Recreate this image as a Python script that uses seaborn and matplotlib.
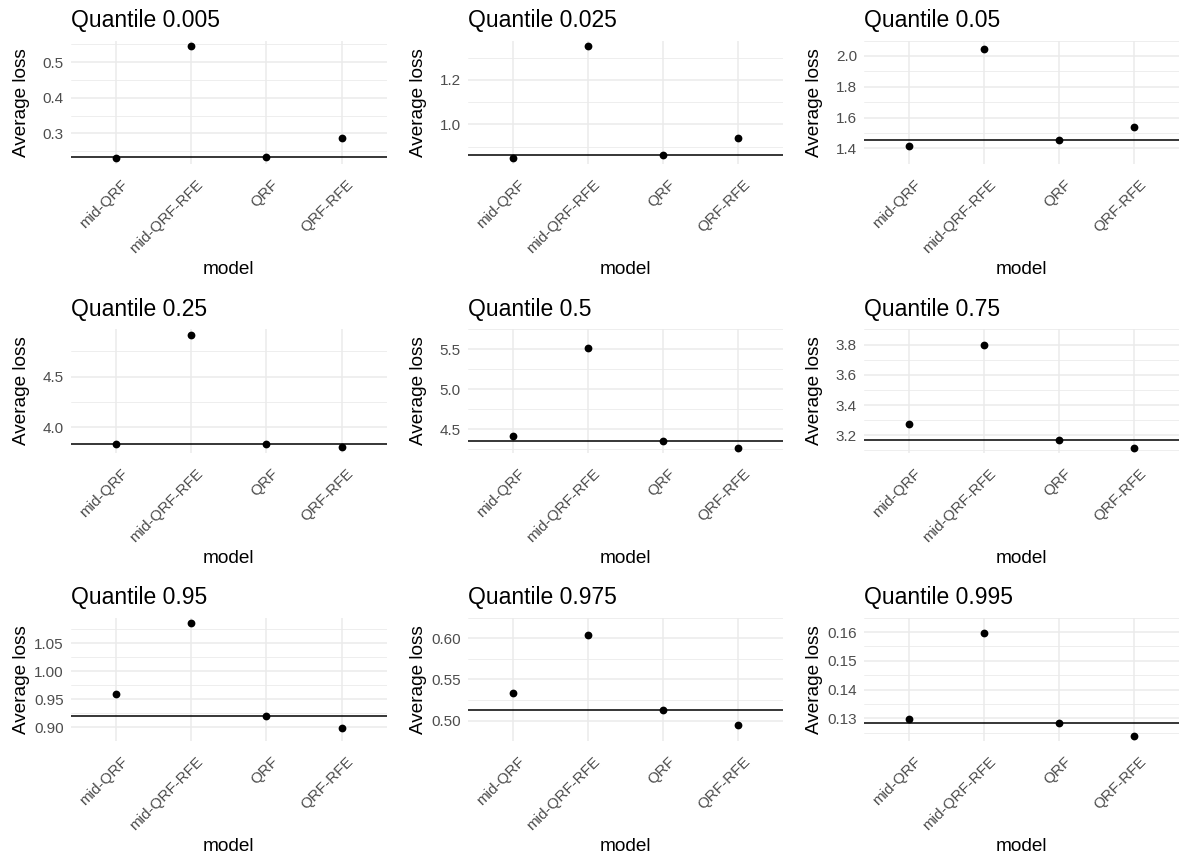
import matplotlib
matplotlib.use("Agg")
import matplotlib.pyplot as plt
import matplotlib.transforms as mtransforms
import seaborn as sns
import pandas as pd
import numpy as np

# ---------------- data ----------------
quantiles = ["0.005", "0.025", "0.05", "0.25", "0.5", "0.75", "0.95", "0.975", "0.995"]
models = ["mid-QRF", "mid-QRF-RFE", "QRF", "QRF-RFE"]

loss_q0005 = [0.230, 0.545, 0.235, 0.286]
loss_q0025 = [0.848, 1.352, 0.865, 0.941]
loss_q005 = [1.413, 2.045, 1.455, 1.536]
loss_q025 = [3.832, 4.912, 3.835, 3.808]
loss_q05 = [4.411, 5.511, 4.355, 4.266]
loss_q075 = [3.277, 3.800, 3.167, 3.118]
loss_q095 = [0.960, 1.0865, 0.920, 0.898]
loss_q0975 = [0.5333, 0.6045, 0.513, 0.495]
loss_q0995 = [0.1297, 0.1596, 0.1285, 0.1239]

losses = [loss_q0005, loss_q0025, loss_q005, loss_q025, loss_q05,
          loss_q075, loss_q095, loss_q0975, loss_q0995]

# benchmark line = QRF loss
benchmark_model = "QRF"

ytick_values = [
    [0.3, 0.4, 0.5],
    [1.0, 1.2],
    [1.4, 1.6, 1.8, 2.0],
    [4.0, 4.5],
    [4.5, 5.0, 5.5],
    [3.2, 3.4, 3.6, 3.8],
    [0.90, 0.95, 1.00, 1.05],
    [0.50, 0.55, 0.60],
    [0.13, 0.14, 0.15, 0.16],
]
ytick_labels = [
    ["0.3", "0.4", "0.5"],
    ["1.0", "1.2"],
    ["1.4", "1.6", "1.8", "2.0"],
    ["4.0", "4.5"],
    ["4.5", "5.0", "5.5"],
    ["3.2", "3.4", "3.6", "3.8"],
    ["0.90", "0.95", "1.00", "1.05"],
    ["0.50", "0.55", "0.60"],
    ["0.13", "0.14", "0.15", "0.16"],
]

# ---------------- style ----------------
sns.set_theme(style="white")
plt.rcParams['font.family'] = ['Liberation Sans', 'DejaVu Sans']

W, H = 1181, 861
fig = plt.figure(figsize=(W / 100, H / 100), dpi=100)
fig.patch.set_facecolor("white")

col_left = [70.7, 467.7, 864.0]
col_width = [316.0, 315.0, 315.0]
row_top = [40.5, 329.4, 617.7]
panel_h = 123.4

grid_col = "#EBEBEB"
label_shift = mtransforms.ScaledTranslation(5 / 100, -8 / 100, fig.dpi_scale_trans)

for i, q in enumerate(quantiles):
    r, c = divmod(i, 3)
    ax = fig.add_axes([col_left[c] / W, 1 - (row_top[r] + panel_h) / H,
                       col_width[c] / W, panel_h / H])
    df = pd.DataFrame({"model": models, "loss": losses[i]})
    baseline = df.loc[df["model"] == benchmark_model, "loss"].iloc[0]

    sns.stripplot(data=df, x="model", y="loss", order=models, jitter=False,
                  color="black", size=5.6, linewidth=0, ax=ax, zorder=4)
    ax.axhline(baseline, color="black", lw=1.1, zorder=3)

    ax.set_xlim(-0.6, len(models) - 0.4)
    lo, hi = min(losses[i]), max(losses[i])
    rng = hi - lo
    ax.set_ylim(lo - 0.05 * rng, hi + 0.05 * rng)

    yt = ytick_values[i]
    ax.set_yticks(yt)
    ax.set_yticklabels(ytick_labels[i])
    step = yt[1] - yt[0]
    minors = [yt[0] - step / 2] + [a + step / 2 for a in yt]
    ax.set_yticks(minors, minor=True)

    ax.grid(False)
    ax.grid(which="major", axis="both", color=grid_col, lw=1.1)
    ax.grid(which="minor", axis="y", color=grid_col, lw=0.6)
    ax.set_axisbelow(True)
    for s in ax.spines.values():
        s.set_visible(False)
    ax.set_facecolor("white")

    ax.tick_params(axis="both", which="both", length=0, labelsize=11,
                   labelcolor="#4D4D4D")
    ax.tick_params(axis="y", pad=5)
    ax.tick_params(axis="x", pad=4)
    for lab in ax.get_xticklabels():
        lab.set_rotation(45)
        lab.set_ha("right")
        lab.set_va("top")
        lab.set_rotation_mode("anchor")
        lab.set_transform(lab.get_transform() + label_shift)

    ax.set_title(f"Quantile {q}", loc="left", fontsize=16.5, color="black", pad=10)
    ax.set_ylabel("Average loss", fontsize=13.7, color="black")
    ax.set_xlabel("model", fontsize=13.7, color="black")
    ax.yaxis.set_label_coords(-0.129, 0.5)
    ax.xaxis.set_label_coords(0.5, -0.785)

fig.savefig("out.png", dpi=100, facecolor="white")
